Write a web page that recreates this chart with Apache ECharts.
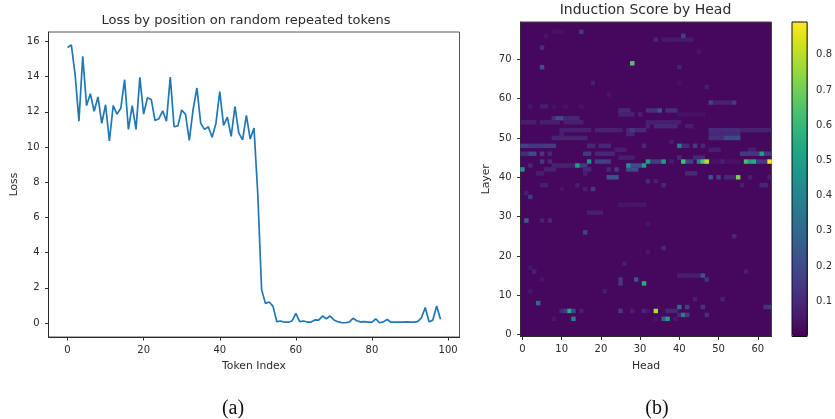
<!DOCTYPE html>
<html>
<head>
<meta charset="utf-8">
<style>html,body{margin:0;padding:0;background:#fff}#c{width:835px;height:419px}</style>
<script src="https://cdn.jsdelivr.net/npm/echarts@6/dist/echarts.min.js"></script>
</head>
<body>
<div id="c"></div>
<script>
const lossValues = [15.65,15.8,14.1,11.47,15.15,12.35,13.03,12.03,12.84,11.34,12.4,10.34,12.35,11.87,12.2,13.82,11.0,12.35,11.0,13.95,11.87,12.8,12.7,11.5,11.6,12.05,11.47,13.97,11.15,11.2,12.1,11.85,10.38,12.13,13.35,11.34,11.0,11.15,10.55,11.34,13.15,11.23,11.7,10.6,12.3,10.8,10.4,11.8,10.45,11.07,7.3,1.9,1.12,1.2,0.95,0.08,0.12,0.05,0.05,0.12,0.55,0.08,0.12,0.06,0.06,0.18,0.17,0.4,0.25,0.4,0.18,0.08,0.03,0.02,0.05,0.27,0.13,0.07,0.08,0.06,0.05,0.24,0.02,0.07,0.2,0.05,0.05,0.05,0.05,0.07,0.06,0.06,0.08,0.3,0.88,0.08,0.17,0.97,0.22];
const lossTicksX = [0,20,40,60,80,100];
const lossTicksY = [0,2,4,6,8,10,12,14,16];
const barTicks = [0.1,0.2,0.3,0.4,0.5,0.6,0.7,0.8];
const headCount = 64;
const layerCount = 80;
// runs of similar cells: [layer, firstHead, lastHead, score]
const scoreRuns = [
 [77,8,10,.04],[75,36,43,.06],[64,40,40,.04],[59,49,53,.08],[58,2,2,.05],[58,5,6,.07],[58,8,8,.04],[58,11,11,.04],[58,15,15,.04],
 [57,25,27,.1],[57,32,34,.12],[57,37,39,.12],[56,25,28,.08],[56,30,30,.08],[56,40,46,.04],
 [55,8,8,.11],[55,9,10,.2],[55,11,14,.1],[54,0,3,.07],[54,5,9,.07],[54,11,15,.08],[54,32,40,.07],
 [53,32,32,.08],[53,34,39,.1],[53,42,43,.07],
 [52,10,17,.08],[52,19,25,.08],[52,27,27,.1],[52,29,31,.1],[52,48,55,.11],[52,56,63,.08],
 [51,27,28,.09],[51,48,55,.1],[50,8,16,.09],[50,48,51,.12],[50,52,55,.2],
 [48,0,1,.17],[48,2,5,.14],[48,6,8,.15],[48,17,18,.1],[48,20,22,.1],[48,41,42,.1],
 [47,24,26,.07],[47,48,50,.07],[47,58,59,.07],
 [46,2,3,.2],[46,0,1,.11],[46,16,17,.15],[46,19,23,.1],[46,56,60,.15],[46,62,63,.15],
 [45,25,28,.07],[45,44,46,.1],
 [44,19,21,.17],[44,33,35,.15],[44,42,43,.17],[44,60,62,.15],[44,48,50,.04],[44,52,55,.04],
 [43,8,13,.08],[43,15,16,.15],[43,28,30,.2],
 [42,6,8,.08],[42,16,17,.1],[42,27,29,.2],[41,4,5,.07],[41,42,44,.1],
 [40,22,24,.23],[40,52,54,.1],[38,5,6,.07],[38,61,62,.1],
 [33,25,31,.05],[31,17,20,.07],[15,40,45,.07],[6,37,39,.1]
];
// single cells: [head, layer, score]
const scoreCells = [
 [28,69,.65],[5,68,.23],[15,77,.15],[41,76,.17],[6,76,.05],[34,75,.1],[5,73,.12],[45,72,.05],[40,68,.08],[18,64,.07],[47,63,.07],[22,61,.05],
 [48,59,.17],[54,59,.15],[35,57,.24],[28,52,.15],[10,51,.07],[38,49,.07],[31,48,.1],[40,48,.38],[44,48,.15],[46,48,.1],
 [5,46,.15],[7,46,.1],[61,46,.5],[40,45,.1],[5,44,.15],[7,44,.1],[17,44,.45],[22,44,.15],[32,44,.5],[36,44,.5],[38,44,.07],[41,44,.62],[45,44,.4],[46,44,.65],[47,44,.8],[51,44,.08],[57,44,.62],[58,44,.5],[59,44,.55],[63,44,.89],
 [2,43,.1],[14,43,.5],[27,43,.45],[31,43,.5],[0,42,.45],[22,42,.1],[24,42,.15],[16,41,.07],
 [48,40,.24],[50,40,.17],[55,40,.72],[58,40,.07],[63,40,.07],[32,39,.1],[34,39,.07],[14,38,.07],[36,38,.1],[56,38,.07],
 [10,37,.05],[16,37,.07],[18,37,.15],[1,36,.07],[2,35,.15],[1,29,.27],[5,29,.08],[7,29,.1],[32,28,.05],
 [16,26,.17],[54,25,.1],[36,22,.1],[32,21,.05],[26,18,.07],[2,17,.05],[3,16,.08],[57,16,.07],[46,15,.24],
 [5,14,.05],[25,14,.15],[29,14,.23],[47,14,.13],[25,13,.15],[31,13,.55],[2,11,.05],[21,11,.07],[44,9,.07],[51,9,.08],[4,8,.3],
 [40,7,.3],[42,7,.17],[46,7,.13],[62,7,.13],[63,7,.15],
 [10,6,.1],[11,6,.15],[12,6,.55],[13,6,.2],[15,6,.07],[25,6,.15],[28,6,.07],[31,6,.1],[32,6,.05],[34,6,.78],
 [40,5,.1],[41,5,.38],[42,5,.15],[47,5,.12],[8,4,.05],[13,4,.38],[34,4,.05],[36,4,.27],[37,4,.5],[39,4,.05]
];
const viridis = ['#440154','#481a6c','#472f7d','#414487','#39568c','#31688e','#2a788e','#23888e','#1f988b','#22a884','#35b779','#54c568','#7ad151','#a5db36','#d2e21b','#fde725'];

const heatData = [];
scoreRuns.forEach(([layer, a, b, v]) => { for (let h = a; h <= b; h++) heatData.push([h, layer, v]); });
scoreCells.forEach(c => heatData.push(c));

const ink = '#2b2b2b';
const labelStyle = { fontFamily: 'DejaVu Sans', fontSize: 10, color: ink };
const nameStyle = { fontFamily: 'DejaVu Sans', fontSize: 10.8, color: ink };
const line = { show: true, onZero: false, lineStyle: { color: ink, width: 1 } };
const tick = { show: true, length: 3.5, lineStyle: { color: ink, width: 1 } };
const capStyle = { fontFamily: 'Liberation Serif', fontSize: 20, fontWeight: 'normal', color: '#111' };
const heads = Array.from({ length: headCount }, (_, i) => String(i));
const layers = Array.from({ length: layerCount }, (_, i) => String(i));

const chart = echarts.init(document.getElementById('c'), null, { renderer: 'canvas' });
chart.setOption({
  animation: false,
  backgroundColor: '#fff',
  title: [
    { text: 'Loss by position on random repeated tokens', left: 246, top: 14, textAlign: 'center', textStyle: { fontFamily: 'DejaVu Sans', fontSize: 13, fontWeight: 'normal', color: ink }, padding: 0 },
    { text: 'Induction Score by Head', left: 645.5, top: 3, textAlign: 'center', textStyle: { fontFamily: 'DejaVu Sans', fontSize: 14, fontWeight: 'normal', color: ink }, padding: 0 },
    { text: '(a)', left: 233, top: 399, textAlign: 'center', textStyle: capStyle, padding: 0 },
    { text: '(b)', left: 657, top: 399, textAlign: 'center', textStyle: capStyle, padding: 0 }
  ],
  grid: [
    { left: 48.5, top: 32, width: 411, height: 305, show: true, borderColor: '#555', borderWidth: 1, backgroundColor: 'transparent' },
    { left: 520.5, top: 22, width: 251, height: 314.5, show: true, borderColor: '#444', borderWidth: 1, backgroundColor: '#46085c', z: 0 },
    { left: 792, top: 22, width: 16, height: 314.5, show: true, borderColor: '#111', borderWidth: 1, backgroundColor: 'transparent', z: 10 }
  ],
  xAxis: [
    { gridIndex: 0, type: 'value', min: -5, max: 103, splitLine: { show: false }, axisLine: line,
      axisTick: { ...tick, customValues: lossTicksX }, axisLabel: { ...labelStyle, margin: 8, customValues: lossTicksX },
      name: 'Token Index', nameLocation: 'middle', nameGap: 24, nameTextStyle: nameStyle },
    { gridIndex: 1, type: 'category', data: heads, axisLine: line,
      axisTick: { ...tick, interval: 9, alignWithLabel: true }, axisLabel: { ...labelStyle, margin: 8, interval: 9 },
      name: 'Head', nameLocation: 'middle', nameGap: 24, nameTextStyle: nameStyle },
    { gridIndex: 2, type: 'value', min: 0, max: 1, show: false }
  ],
  yAxis: [
    { gridIndex: 0, type: 'value', min: -0.79, max: 16.53, splitLine: { show: false }, axisLine: line,
      axisTick: { ...tick, customValues: lossTicksY }, axisLabel: { ...labelStyle, margin: 9, customValues: lossTicksY },
      name: 'Loss', nameLocation: 'middle', nameGap: 29, nameTextStyle: nameStyle },
    { gridIndex: 1, type: 'category', data: layers, axisLine: line,
      axisTick: { ...tick, interval: 9, alignWithLabel: true }, axisLabel: { ...labelStyle, margin: 9, interval: 9 },
      name: 'Layer', nameLocation: 'middle', nameGap: 29, nameTextStyle: nameStyle },
    { gridIndex: 2, type: 'value', position: 'right', min: 0, max: 0.893, splitLine: { show: false },
      axisLine: { show: false }, axisTick: { ...tick, customValues: barTicks },
      axisLabel: { ...labelStyle, margin: 9, customValues: barTicks, formatter: v => v.toFixed(1) } }
  ],
  visualMap: [{
    type: 'continuous', seriesIndex: 1, min: 0, max: 0.893, calculable: false, show: true,
    orient: 'vertical', left: 792, top: 22, itemWidth: 16, itemHeight: 314.5, padding: 0, text: null, showLabel: false,
    inRange: { color: viridis }, textStyle: { fontSize: 0 }
  }],
  series: [
    { type: 'line', xAxisIndex: 0, yAxisIndex: 0, showSymbol: false, silent: true,
      data: lossValues.map((v, i) => [i, v]), lineStyle: { color: '#1f77b4', width: 1.7 } },
    { type: 'heatmap', xAxisIndex: 1, yAxisIndex: 1, data: heatData, silent: true, progressive: 0, itemStyle: { borderWidth: 0 } }
  ]
});
</script>
</body>
</html>
